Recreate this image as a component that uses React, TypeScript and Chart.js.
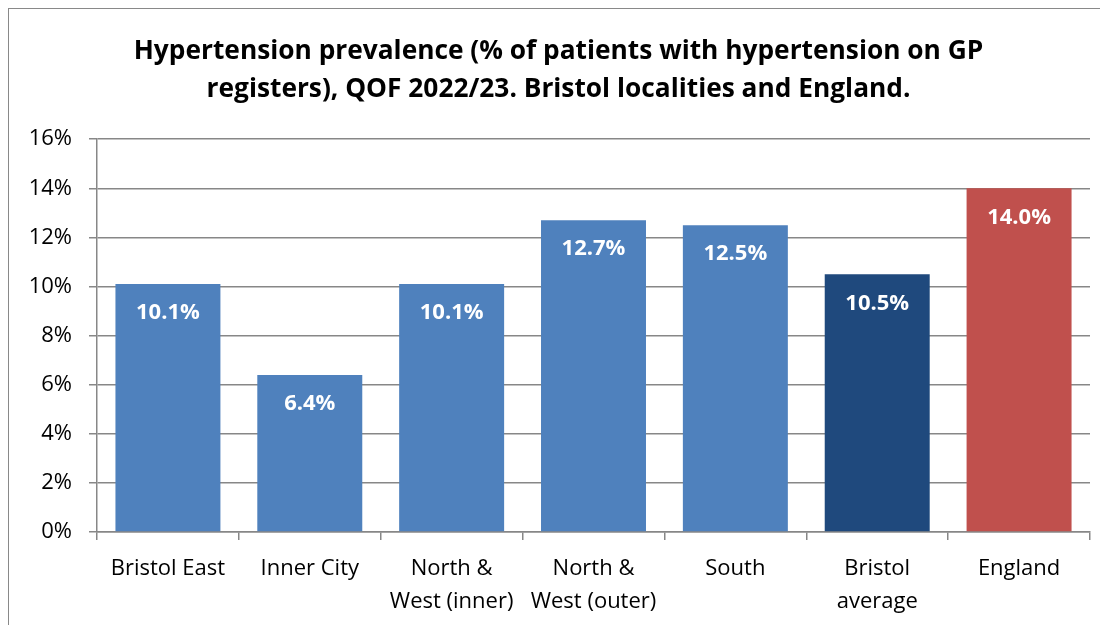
import React, { useEffect, useRef } from "react";
import { Chart, registerables } from "chart.js";

Chart.register(...registerables);

const titleLines = [
  "Hypertension prevalence (% of patients with hypertension on GP",
  "registers), QOF 2022/23. Bristol localities and England.",
];
const categories: (string | string[])[] = [
  "Bristol East",
  "Inner City",
  ["North &", "West (inner)"],
  ["North &", "West (outer)"],
  "South",
  ["Bristol", "average"],
  "England",
];
const values = [10.1, 6.4, 10.1, 12.7, 12.5, 10.5, 14.0];
const barColors = ["#4F81BD", "#4F81BD", "#4F81BD", "#4F81BD", "#4F81BD", "#1F497D", "#C0504D"];
const yTicks = [0, 2, 4, 6, 8, 10, 12, 14, 16];

const FONT = "'Open Sans', 'Liberation Sans', sans-serif";

const valueLabels = {
  id: "valueLabels",
  afterDatasetsDraw(chart: any) {
    const ctx = chart.ctx;
    const meta = chart.getDatasetMeta(0);
    ctx.save();
    ctx.fillStyle = "#FFFFFF";
    ctx.font = `bold 22px ${FONT}`;
    ctx.textAlign = "center";
    ctx.textBaseline = "middle";
    meta.data.forEach((el: any, i: number) => {
      const v = chart.data.datasets[0].data[i] as number;
      ctx.fillText(v.toFixed(1) + "%", el.x, el.y + 29);
    });
    ctx.restore();
  },
};

export default function App() {
  const ref = useRef<HTMLCanvasElement>(null);
  useEffect(() => {
    if (!ref.current) return;
    const chart = new Chart(ref.current, {
      type: "bar",
      data: {
        labels: categories,
        datasets: [
          {
            data: values,
            backgroundColor: barColors,
            borderWidth: 0,
            categoryPercentage: 1,
            barPercentage: 0.74,
          },
        ],
      },
      options: {
        animation: false,
        responsive: false,
        maintainAspectRatio: false,
        layout: { padding: { left: 18, right: 18, top: 0, bottom: 0 } },
        plugins: {
          legend: { display: false },
          tooltip: { enabled: false },
          title: {
            display: true,
            text: titleLines,
            color: "#000000",
            font: { family: FONT, size: 26.3, weight: "bold", lineHeight: 1.43 },
            padding: { top: 24, bottom: 31 },
          },
        },
        scales: {
          x: {
            afterFit(axis: any) {
              axis.height = 93;
            },
            grid: {
              drawOnChartArea: false,
              drawTicks: true,
              tickLength: 8,
              color: "#878787",
              lineWidth: 1.5,
            },
            border: { display: true, color: "#878787", width: 1.5 },
            ticks: {
              color: "#000000",
              font: { family: FONT, size: 22, lineHeight: 1.5 },
              padding: 12,
              maxRotation: 0,
              autoSkip: false,
            },
          },
          y: {
            min: 0,
            max: 16,
            afterBuildTicks(axis: any) {
              axis.ticks = yTicks.map((v) => ({ value: v }));
            },
            afterFit(axis: any) {
              axis.width = 70;
            },
            grid: {
              color: "#878787",
              lineWidth: 1.5,
              tickLength: 8,
              drawTicks: true,
            },
            border: { display: true, color: "#878787", width: 1.5 },
            ticks: {
              color: "#000000",
              font: { family: FONT, size: 22 },
              padding: 17,
              callback: (v: any) => v + "%",
            },
          },
        },
      },
      plugins: [valueLabels],
    });
    return () => chart.destroy();
  }, []);
  return (
    <div
      style={{
        width: 1100,
        height: 617,
        borderTop: "1px solid #898989",
        borderLeft: "1px solid #898989",
        boxSizing: "border-box",
        background: "#fff",
      }}
    >
      <canvas ref={ref} width={1099} height={616} style={{ display: "block" }} />
    </div>
  );
}
